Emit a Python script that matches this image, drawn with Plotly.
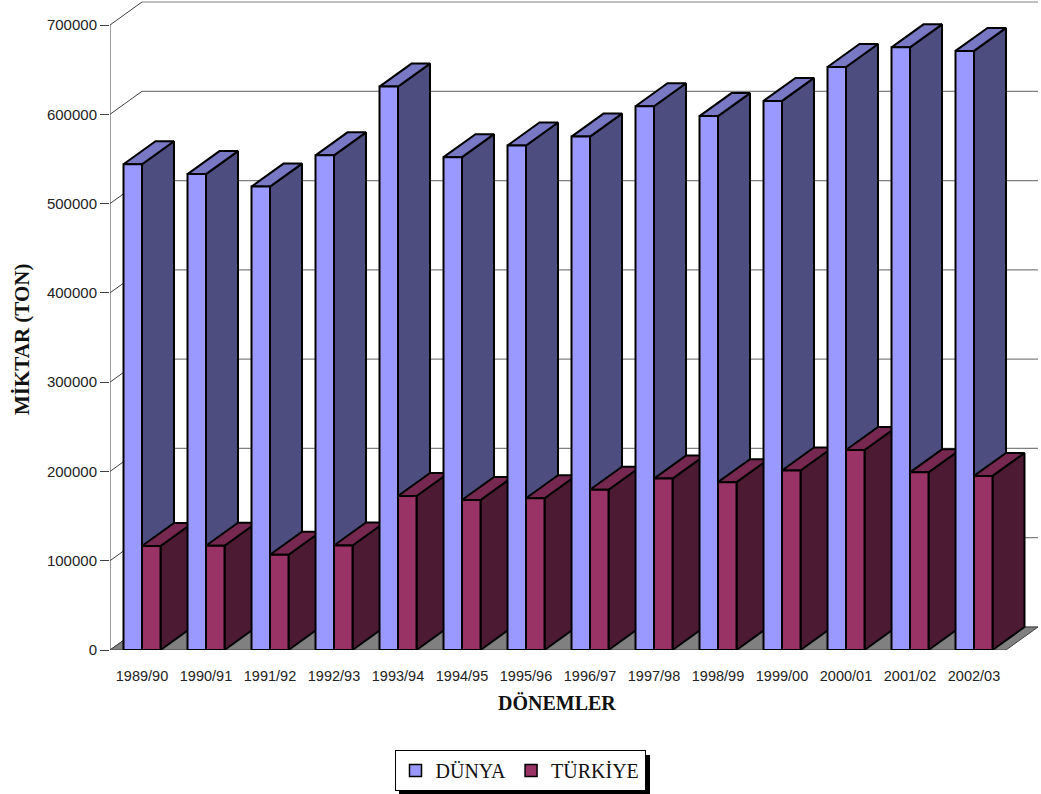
import plotly.graph_objects as go

# Seasons and production (tonnes)
donemler = ["1989/90", "1990/91", "1991/92", "1992/93", "1993/94", "1994/95", "1995/96",
            "1996/97", "1997/98", "1998/99", "1999/00", "2000/01", "2001/02", "2002/03"]
dunya = [544000, 533000, 519000, 554000, 631000, 552000, 565000,
         575000, 609000, 598000, 615000, 653000, 675000, 671000]
turkiye = [116500, 116800, 106700, 117000, 172500, 168000, 170000,
           179500, 192000, 188000, 201000, 224000, 199000, 195000]
y_ticks = [0, 100000, 200000, 300000, 400000, 500000, 600000, 700000]

# pseudo-3D geometry (in axis units)
DX = 0.5          # depth offset along x (category units)
DY = 25760        # depth offset along y (value units)
BW = 0.289        # width of one bar
X_LEFT = -0.5
X_RIGHT = len(donemler) - 0.5
Y_MAX = 700000

# plot area in pixels (used to place paper-referenced text)
PX_L, PX_W, PX_B, PX_H = 110, 928, 650, 650


def px_x(p):
    return (p - PX_L) / PX_W


def px_y(p):
    return (PX_B - p) / PX_H


series = [
    dict(name="DÜNYA", values=dunya, front="#9999FF", top="#7878C4", side="#4D4D80", off=-BW),
    dict(name="TÜRKİYE", values=turkiye, front="#993366", top="#772850", side="#4D1A33", off=0.0),
]

fig = go.Figure()


def poly(xs, ys, fill, line_color="black", width=2):
    fig.add_trace(go.Scatter(
        x=xs + [xs[0]], y=ys + [ys[0]], mode="lines", fill="toself",
        fillcolor=fill, line=dict(color=line_color, width=width),
        hoverinfo="skip", showlegend=False, cliponaxis=False))


def line(xs, ys, color, width=1):
    fig.add_trace(go.Scatter(
        x=xs, y=ys, mode="lines", line=dict(color=color, width=width),
        hoverinfo="skip", showlegend=False, cliponaxis=False))


# back wall gridlines and side wall diagonals
for v in y_ticks:
    line([X_LEFT + DX, X_RIGHT + DX], [v + DY, v + DY], "#808080", 1.2)
    line([X_LEFT, X_LEFT + DX], [v, v + DY], "#404040", 1)

# floor
poly([X_LEFT, X_RIGHT, X_RIGHT + DX, X_LEFT + DX], [0, 0, DY, DY], "#808080", "#404040", 1)

# front value axis line
line([X_LEFT, X_LEFT], [0, Y_MAX], "#404040", 1)

# bars, drawn left to right so nearer faces overlap correctly
for i in range(len(donemler)):
    for s in series:
        v = s["values"][i]
        x0 = i + s["off"]
        x1 = x0 + BW
        poly([x1, x1 + DX, x1 + DX, x1], [0, DY, v + DY, v], s["side"])
        poly([x0, x1, x1 + DX, x0 + DX], [v, v, v + DY, v + DY], s["top"])
        poly([x0, x1, x1, x0], [0, 0, v, v], s["front"])

# legend entries
for s in series:
    fig.add_trace(go.Bar(x=[None], y=[None], name=s["name"],
                         marker=dict(color=s["front"], line=dict(color="black", width=1.5))))

fig.update_layout(
    width=1041, height=794,
    margin=dict(l=110, r=3, t=0, b=144),
    paper_bgcolor="white", plot_bgcolor="white",
    font=dict(family="Liberation Sans, Arial", color="#222222"),
    showlegend=True,
    legend=dict(orientation="h", x=px_x(520), xanchor="center", y=px_y(750), yanchor="top",
                font=dict(family="Liberation Serif, Times New Roman", size=20, color="#111111"),
                bordercolor="black", borderwidth=1, bgcolor="white",
                itemclick=False, itemdoubleclick=False),
    xaxis=dict(type="linear", range=[X_LEFT, X_RIGHT + DX], showgrid=False, zeroline=False,
               showline=False, tickmode="array", tickvals=list(range(len(donemler))),
               ticktext=donemler, ticks="outside", ticklen=13, tickcolor="rgba(0,0,0,0)",
               tickfont=dict(size=14.5)),
    yaxis=dict(range=[0, 728000], showgrid=False, zeroline=False, showline=False,
               tickmode="array", tickvals=y_ticks, ticktext=[str(t) for t in y_ticks],
               ticks="outside", ticklen=9, tickcolor="#404040", tickwidth=1,
               tickfont=dict(size=15)),
    shapes=[
        # drop shadow behind the legend box
        dict(type="rect", xref="paper", yref="paper",
             x0=px_x(399), x1=px_x(650), y0=px_y(755), y1=px_y(794),
             fillcolor="black", line=dict(width=0), layer="above"),
    ],
    annotations=[
        dict(text="<b>DÖNEMLER</b>", xref="paper", yref="paper",
             x=px_x(557), y=px_y(703), showarrow=False,
             xanchor="center", yanchor="middle",
             font=dict(family="Liberation Serif, Times New Roman", size=20, color="#111111")),
        dict(text="<b>MİKTAR (TON)</b>", xref="paper", yref="paper", textangle=-90,
             x=px_x(22), y=px_y(340), showarrow=False,
             xanchor="center", yanchor="middle",
             font=dict(family="Liberation Serif, Times New Roman", size=21, color="#111111")),
    ],
)

fig.write_html("out.html")
